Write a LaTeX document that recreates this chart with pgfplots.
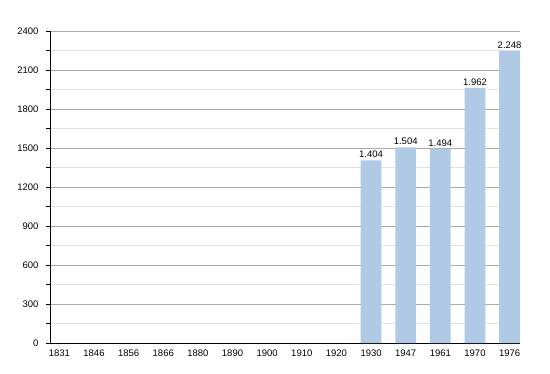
\documentclass[border=0pt]{standalone}
\usepackage{pgfplots}
\pgfplotsset{compat=1.18}
\usepackage{fontspec}
\setmainfont{Liberation Sans}
\definecolor{barblue}{RGB}{176,202,230}
\definecolor{majgrid}{RGB}{170,170,170}
\definecolor{mingrid}{RGB}{225,225,225}
\begin{document}
\begin{tikzpicture}[x=1pt,y=1pt]
\begin{axis}[
  at={(50pt,30pt)}, anchor=south west,
  scale only axis, width=470pt, height=312pt,
  xmin=-0.27, xmax=13.3,
  ymin=0, ymax=2400,
  axis x line*=bottom, axis y line*=left,
  axis line style={line width=0.9pt, -},
  xtick={0,...,13},
  xticklabels={1831,1846,1856,1866,1880,1890,1900,1910,1920,1930,1947,1961,1970,1976},
  ytick={0,300,...,2400},
  minor y tick num=1,
  ymajorgrids, yminorgrids,
  major grid style={majgrid, line width=0.6pt},
  minor grid style={mingrid, line width=0.6pt},
  x tick style={draw=none},
  y tick style={black, line width=0.6pt},
  tick align=outside,
  major tick length=4pt, minor tick length=4pt,
  /pgf/number format/assume math mode=true,
  yticklabel style={/pgf/number format/1000 sep={}, font=\fontsize{9.5}{11}\selectfont, xshift=-4pt},
  xticklabel style={font=\fontsize{9.5}{11}\selectfont, yshift=1pt},
  ybar, bar width=0.6,
  nodes near coords,
  nodes near coords style={/pgf/number format/1000 sep={.}, font=\fontsize{9.5}{11}\selectfont, yshift=-1pt},
]
\addplot[fill=barblue, draw=none] coordinates {(9,1404) (10,1504) (11,1494) (12,1962) (13,2248)};
\end{axis}
\path[use as bounding box] (0,0) rectangle (550,373);
\end{tikzpicture}
\end{document}
